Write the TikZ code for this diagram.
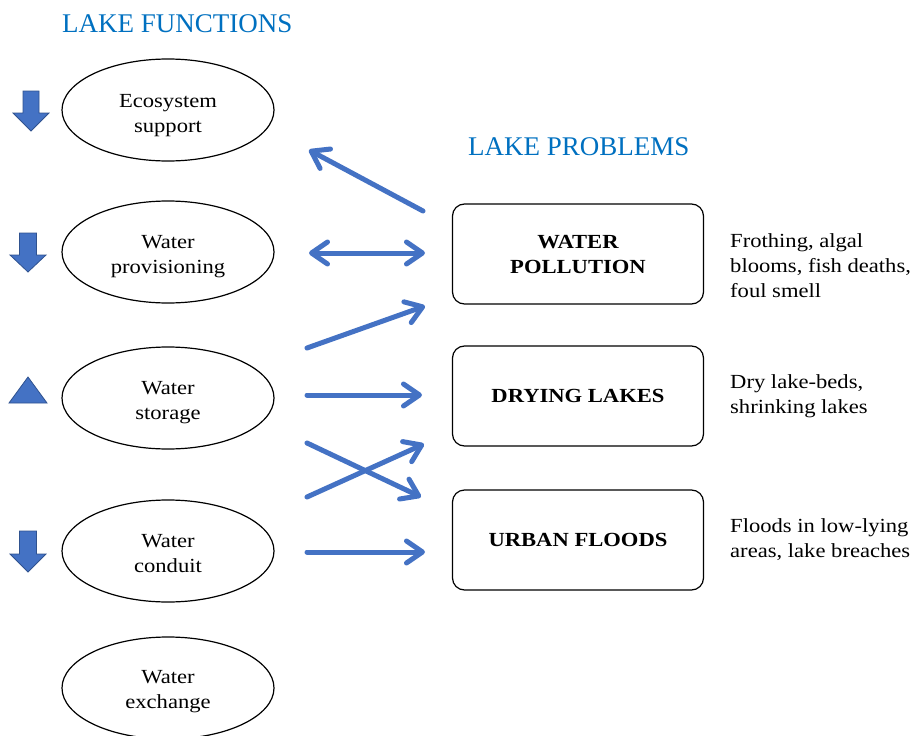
\documentclass[tikz,border=0pt]{standalone}
\usepackage{fontspec}
\setmainfont{Liberation Serif}
\newfontfamily\widefont[FakeStretch=1.13]{Liberation Serif}
\usetikzlibrary{shapes.geometric,arrows.meta}
\definecolor{arrblue}{HTML}{4472C4}
\definecolor{arredge}{HTML}{2F528F}
\definecolor{titleblue}{HTML}{0070C0}
\begin{document}
\begin{tikzpicture}[x=1pt,y=-1pt,
  func/.style={ellipse,draw,line width=1.2pt,minimum width=212pt,minimum height=102pt,inner sep=0pt},
  functext/.style={align=center,inner sep=0pt,font=\widefont\fontsize{20}{25}\selectfont},
  prob/.style={rectangle,rounded corners=12pt,draw,line width=1.2pt,minimum width=251pt,minimum height=100pt,align=center,font=\widefont\fontsize{20}{25}\selectfont\bfseries},
  note/.style={anchor=west,align=left,inner sep=0pt,font=\widefont\fontsize{20}{25}\selectfont},
  ttl/.style={anchor=west,inner sep=0pt,text=titleblue,font=\fontsize{27}{30}\selectfont},
  link/.style={draw=arrblue,line width=5pt,line cap=round,line join=round},
  tip/.style={-{Straight Barb[length=16pt,width=22pt,round]}},
  dtip/.style={{Straight Barb[length=16pt,width=22pt,round]}-{Straight Barb[length=16pt,width=22pt,round]}},
  marker/.style={fill=arrblue,draw=arredge,line width=0.8pt}]
\useasboundingbox (0,0) rectangle (914,736);

\node[ttl] (t1) at (62,24) {LAKE FUNCTIONS};
\node[ttl] (t2) at (468,147) {LAKE PROBLEMS};

\node[func] (eco) at (168,110) {};
\node[func] (prov) at (168,252) {};
\node[func] (stor) at (168,398) {};
\node[func] (cond) at (168,551) {};
\node[func] (exch) at (168,688) {};
\node[functext] (eco-t) at ([yshift=-6pt]eco.center) {Ecosystem\\support};
\node[functext] (prov-t) at ([yshift=-5pt]prov.center) {Water\\provisioning};
\node[functext] (stor-t) at ([yshift=-5pt]stor.center) {Water\\storage};
\node[functext] (cond-t) at ([yshift=-3pt]cond.center) {Water\\conduit};
\node[functext] (exch-t) at ([yshift=-4pt]exch.center) {Water\\exchange};

\node[prob] (poll) at (578,254) {WATER\\POLLUTION};
\node[prob] (dry) at (578,396) {DRYING LAKES};
\node[prob] (flood) at (578,540) {URBAN FLOODS};

\node[note] (n1) at (730,266) {Frothing, algal\\blooms, fish deaths,\\foul smell};
\node[note] (n2) at (730,396) {Dry lake-beds,\\shrinking lakes};
\node[note] (n3) at (730,540) {Floods in low-lying\\areas, lake breaches};

% arrow end points
\coordinate (a1s) at (423,211); \coordinate (a1e) at (309,150);
\coordinate (a2s) at (309,253); \coordinate (a2e) at (425,253);
\coordinate (a3s) at (307,348); \coordinate (a3e) at (425,306);
\coordinate (a4s) at (307,395); \coordinate (a4e) at (422,395);
\coordinate (a5s) at (307,443); \coordinate (a5e) at (421,497);
\coordinate (a6s) at (307,497); \coordinate (a6e) at (424,444);
\coordinate (a7s) at (307,552); \coordinate (a7e) at (425,552);

\draw[link,tip] (a1s) -- (a1e);
\draw[link,dtip] (a2s) -- (a2e);
\draw[link,tip] (a3s) -- (a3e);
\draw[link,tip] (a4s) -- (a4e);
\draw[link,tip] (a5s) -- (a5e);
\draw[link,tip] (a6s) -- (a6e);
\draw[link,tip] (a7s) -- (a7e);

% trend markers
\path[marker,shift={(31,91)}] (-8,0) -- (8,0) -- (8,22) -- (18,22) -- (0,40) -- (-18,22) -- (-8,22) -- cycle;
\path[marker,shift={(28,233)}] (-8.5,0) -- (8.5,0) -- (8.5,22) -- (18,22) -- (0,39) -- (-18,22) -- (-8.5,22) -- cycle;
\path[marker] (9,403) -- (47,403) -- (28,377) -- cycle;
\path[marker,shift={(28,531)}] (-8.5,0) -- (8.5,0) -- (8.5,23) -- (18,23) -- (0,41) -- (-18,23) -- (-8.5,23) -- cycle;
\end{tikzpicture}
\end{document}
